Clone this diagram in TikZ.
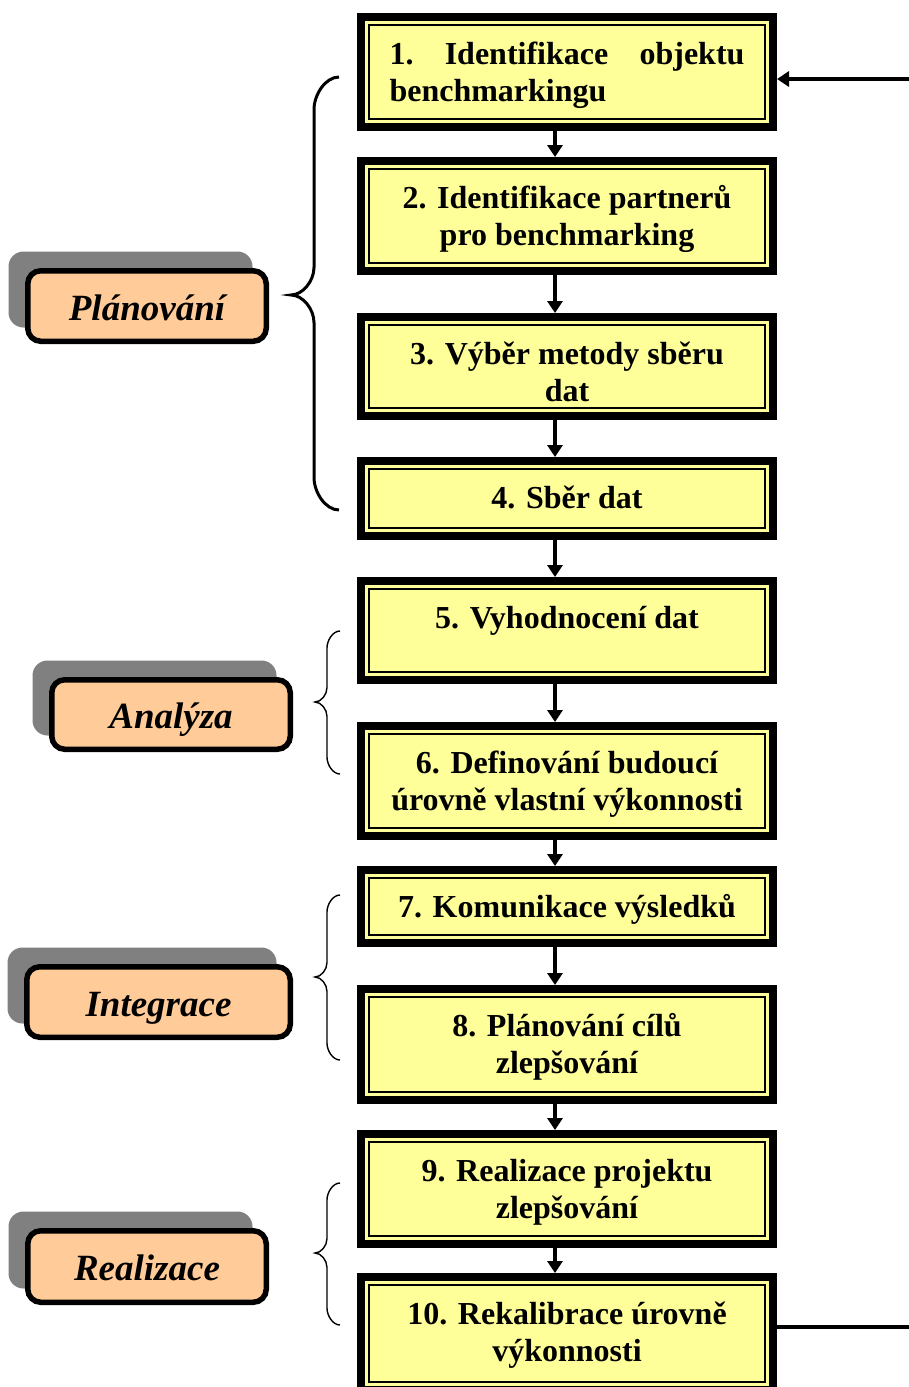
\documentclass[tikz,border=0pt]{standalone}
\usepackage{fontspec}
\setmainfont{Liberation Serif}
\usetikzlibrary{arrows.meta}
\definecolor{stepyellow}{HTML}{FFFF99}
\definecolor{phasepeach}{HTML}{FFCC99}
\definecolor{phasegray}{HTML}{808080}
\tikzset{
  x=1pt, y=-1pt,
  stepbox/.style={draw=black, line width=8pt, fill=stepyellow, inner sep=0pt,
    anchor=north, font=\bfseries\fontsize{32}{37}\selectfont,
    path picture={\draw[line width=2pt]
      ([shift={(8,8)}]path picture bounding box.north west) rectangle
      ([shift={(-8,-8)}]path picture bounding box.south east);}},
  phase/.style={draw=black, line width=5.5pt, fill=phasepeach, rounded corners=13pt,
    inner sep=0pt, text height=28pt, text depth=0pt,
    font=\bfseries\itshape\fontsize{37}{40}\selectfont},
  phaseshadow/.style={fill=phasegray, rounded corners=15pt, inner sep=0pt},
  flow/.style={line width=3.5pt, -{Triangle[length=12pt,width=15pt]}},
  feedback/.style={line width=3.5pt},
  bigbrace/.style={line width=3pt},
  smallbrace/.style={line width=1.4pt},
}
% step text: fixed-height box, first baseline 47pt below the top
\newcommand\steptext[2]{\parbox[c][#1][t]{412pt}{\centering\rule{0pt}{47pt}#2}}
% curly brace: end x, spine x, tip x, top y, tip y, bottom y
% (end bends span 1.3x their width vertically, tip bends 1.2x)
\newcommand\phasebrace[7][]{%
  \draw[#1] (#2,#5) .. controls ({#3+0.45*(#2-#3)},#5) and (#3,{#5+0.55*1.3*(#2-#3)}) .. (#3,{#5+1.3*(#2-#3)})
    -- (#3,{#6-1.2*(#3-#4)}) .. controls (#3,{#6-0.5*1.2*(#3-#4)}) and ({#4+0.5*(#3-#4)},#6) .. (#4,#6)
    .. controls ({#4+0.5*(#3-#4)},#6) and (#3,{#6+0.5*1.2*(#3-#4)}) .. (#3,{#6+1.2*(#3-#4)})
    -- (#3,{#7-1.3*(#2-#3)}) .. controls (#3,{#7-0.55*1.3*(#2-#3)}) and ({#3+0.45*(#2-#3)},#7) .. (#2,#7);}
\begin{document}
\begin{tikzpicture}
\useasboundingbox (0,0) rectangle (909,1387);

% process steps
\node[stepbox] (b1) at (567,13) {\steptext{110pt}{\parbox[t]{355pt}{1.\hfill Identifikace\hfill objektu\\benchmarkingu}}};
\node[stepbox] (b2) at (567,157) {\steptext{110pt}{2. Identifikace partnerů\\pro benchmarking}};
\node[stepbox] (b3) at (567,313) {\steptext{99pt}{3. Výběr metody sběru\\dat}};
\node[stepbox] (b4) at (567,457) {\steptext{75pt}{4. Sběr dat}};
\node[stepbox] (b5) at (567,577) {\steptext{99pt}{5. Vyhodnocení dat}};
\node[stepbox] (b6) at (567,722) {\steptext{110pt}{6. Definování budoucí\\úrovně vlastní výkonnosti}};
\node[stepbox] (b7) at (567,866) {\steptext{73pt}{7. Komunikace výsledků}};
\node[stepbox] (b8) at (567,985) {\steptext{111pt}{8. Plánování cílů\\zlepšování}};
\node[stepbox] (b9) at (567,1130) {\steptext{110pt}{9. Realizace projektu\\zlepšování}};
\node[stepbox] (b10) at (567,1273) {\steptext{113pt}{10. Rekalibrace úrovně\\výkonnosti}};

% arrows between steps
\foreach \a/\b in {b1/b2,b2/b3,b3/b4,b4/b5,b5/b6,b6/b7,b7/b8,b8/b9,b9/b10}
  \draw[flow] ([xshift=-12pt]\a.south) -- ([xshift=-12pt]\b.north);

% feedback loop from step 10 back to step 1
\coordinate (fbout) at (0,1327);
\coordinate (fbin) at (0,79);
\coordinate (fbright) at (940,0);
\draw[feedback] (b10.east |- fbout) -- (fbright |- fbout) -- (fbright |- fbin);
\draw[flow] (fbright |- fbin) -- (b1.east |- fbin);

% phase labels with offset shadows
\node[phaseshadow, minimum width=244pt, minimum height=76pt] (s1) at (130.5,289.5) {};
\node[phase, minimum width=238.5pt, minimum height=70.5pt] (p1) at (147,306) {Plánování};
\node[phaseshadow, minimum width=244pt, minimum height=75pt] (s2) at (154.5,698) {};
\node[phase, minimum width=238.5pt, minimum height=69.5pt] (p2) at (171,714.5) {Analýza};
\node[phaseshadow, minimum width=269pt, minimum height=76pt] (s3) at (142,985.5) {};
\node[phase, minimum width=263.5pt, minimum height=70.5pt] (p3) at (158.5,1002) {Integrace};
\node[phaseshadow, minimum width=244pt, minimum height=77pt] (s4) at (130.5,1250) {};
\node[phase, minimum width=238.5pt, minimum height=71.5pt] (p4) at (147,1266.5) {Realizace};

% braces grouping the steps of each phase
\phasebrace[bigbrace]{339}{314}{291}{77}{295}{510}
\phasebrace[smallbrace]{340}{327}{315}{631}{702}{774}
\phasebrace[smallbrace]{340}{327}{315}{895}{977}{1060}
\phasebrace[smallbrace]{340}{327}{315}{1183}{1253}{1325}
\end{tikzpicture}
\end{document}
